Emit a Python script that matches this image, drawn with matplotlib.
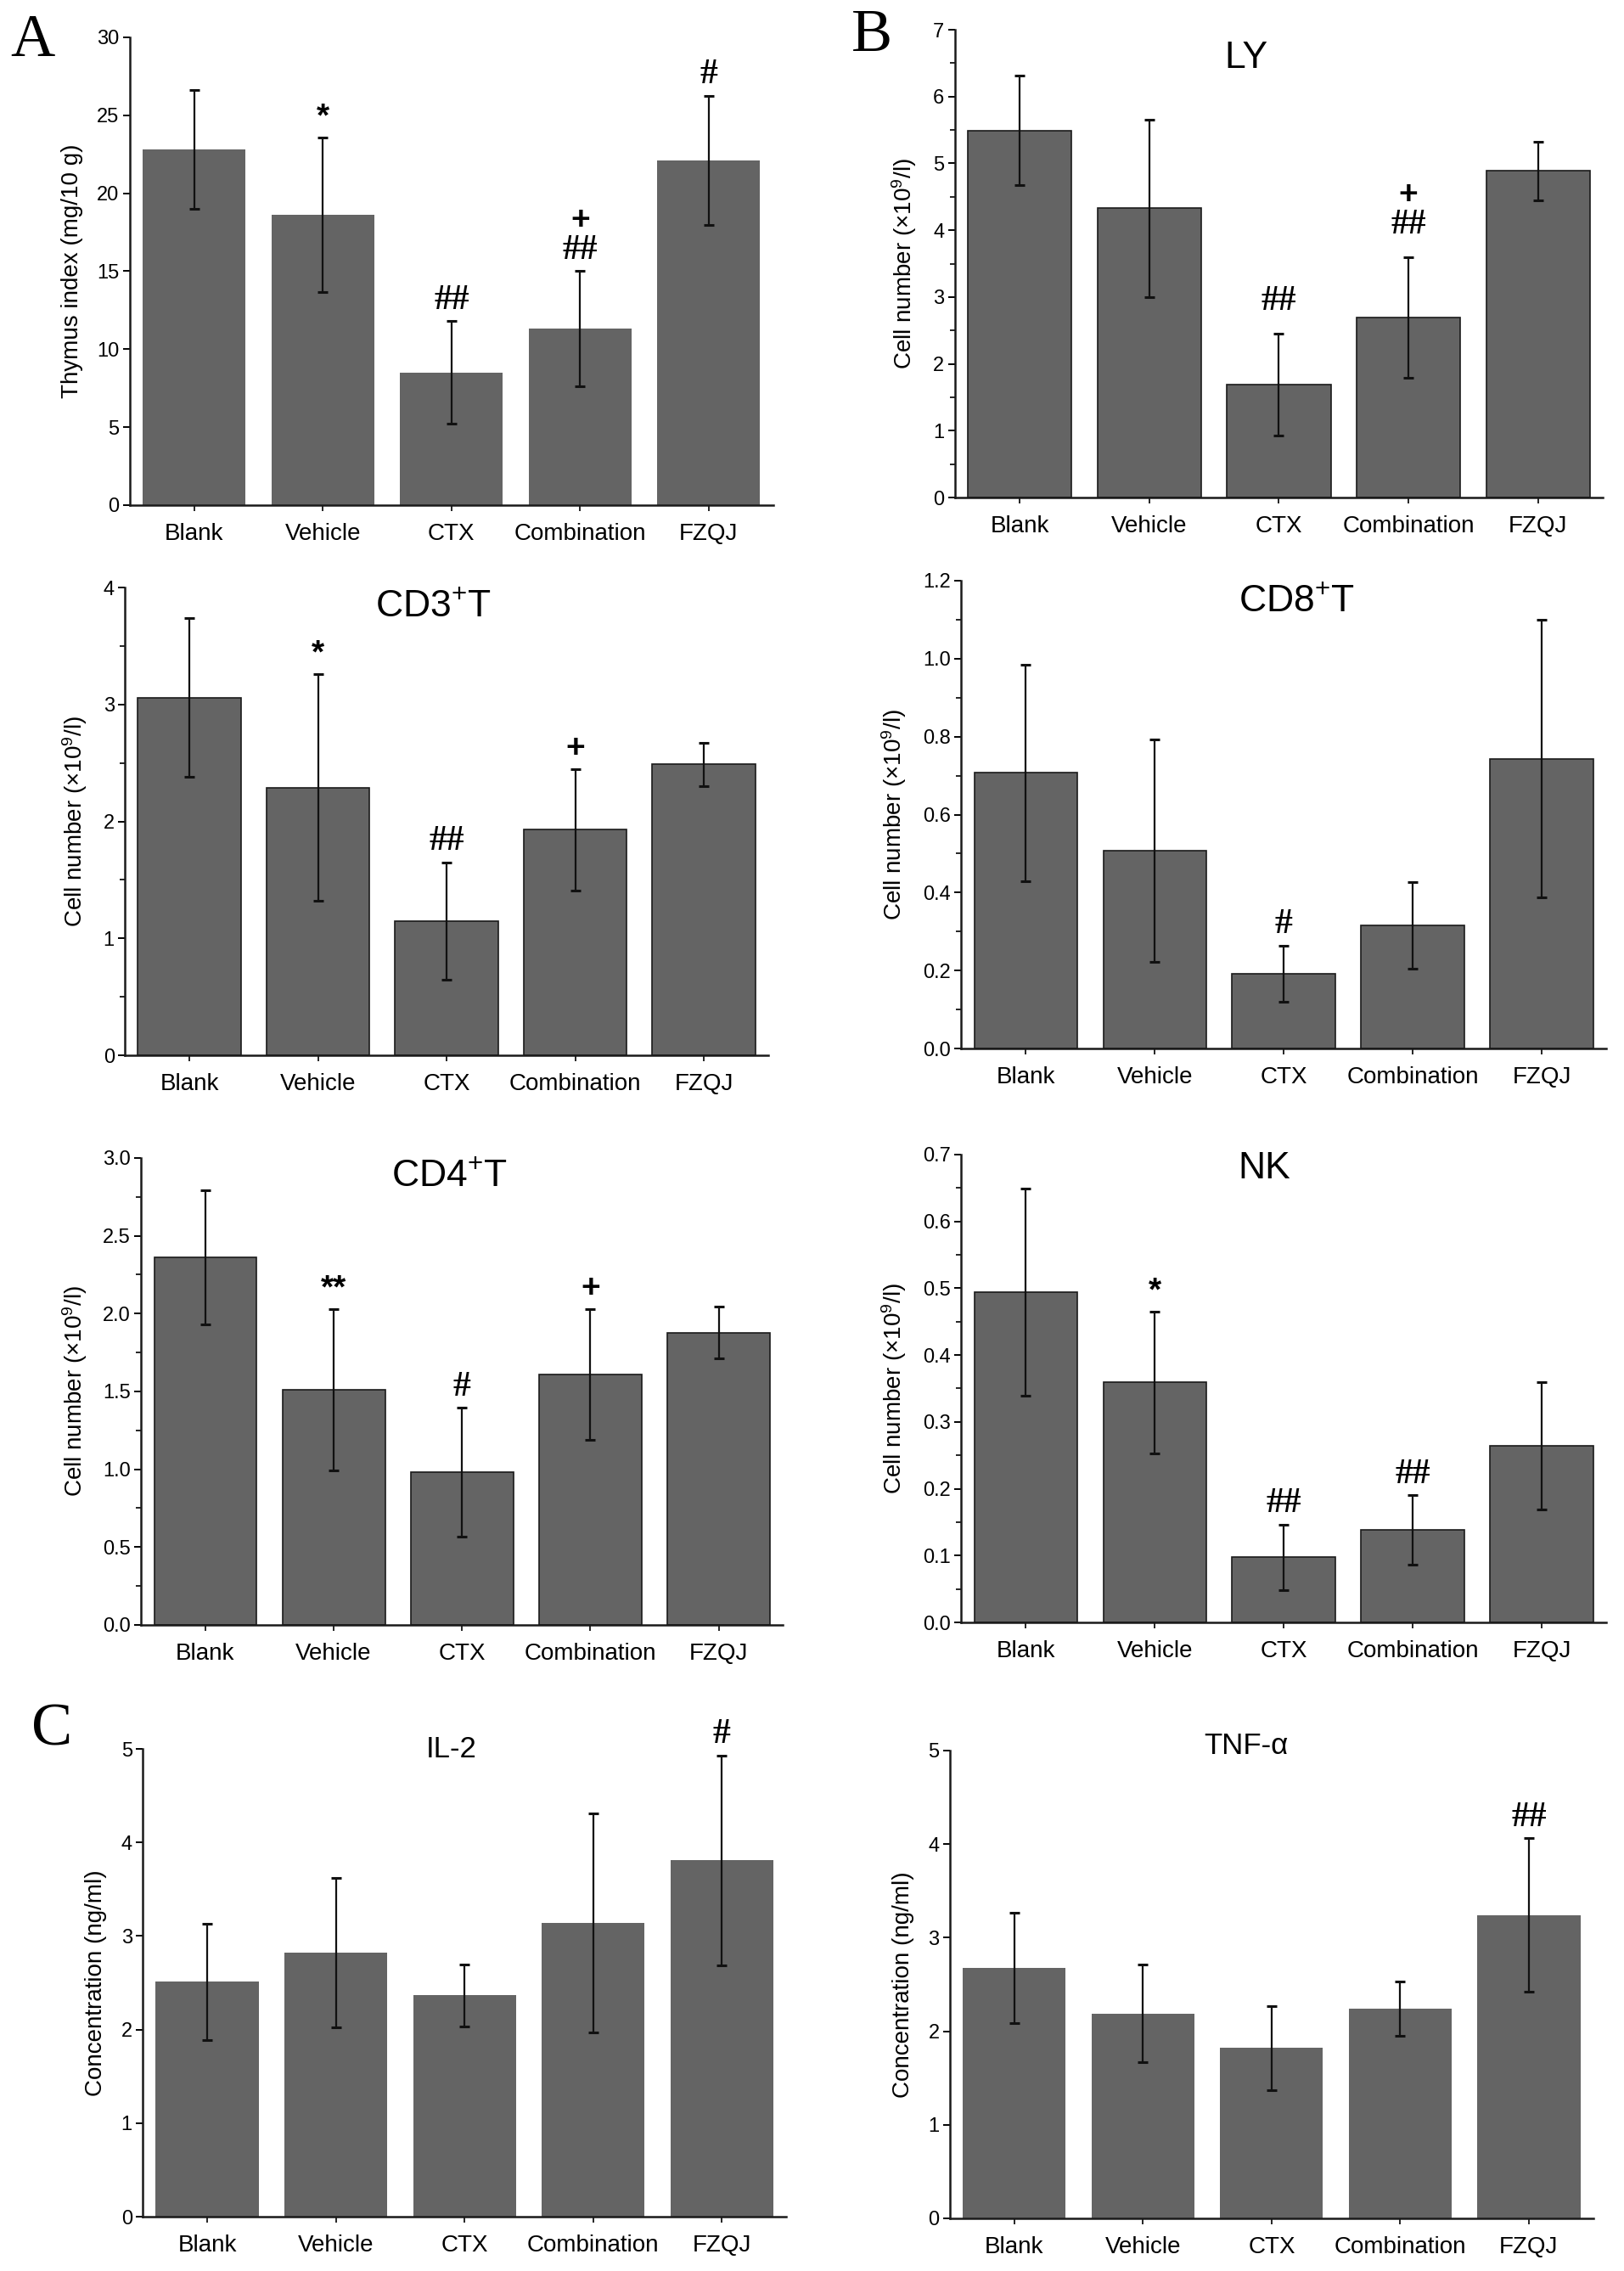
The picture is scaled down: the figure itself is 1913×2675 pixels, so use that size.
import matplotlib
matplotlib.use('Agg')
import matplotlib.pyplot as plt
from matplotlib.ticker import MultipleLocator, FormatStrFormatter

plt.rcParams['font.family'] = ['Liberation Sans', 'DejaVu Sans']
plt.rcParams['mathtext.fontset'] = 'custom'
plt.rcParams['mathtext.rm'] = 'Liberation Sans'
plt.rcParams['mathtext.it'] = 'Liberation Sans:italic'
plt.rcParams['mathtext.bf'] = 'Liberation Sans:bold'

groups = ['Blank', 'Vehicle', 'CTX', 'Combination', 'FZQJ']

# means and error bars
thymus_mean = [22.8, 18.6, 8.5, 11.3, 22.1]
thymus_err = [3.8, 4.95, 3.3, 3.7, 4.15]
ly_mean = [5.49, 4.33, 1.69, 2.69, 4.89]
ly_err = [0.82, 1.33, 0.76, 0.90, 0.44]
cd3_mean = [3.06, 2.29, 1.15, 1.93, 2.49]
cd3_err = [0.68, 0.97, 0.50, 0.52, 0.185]
cd8_mean = [0.707, 0.508, 0.192, 0.316, 0.743]
cd8_err = [0.278, 0.285, 0.072, 0.111, 0.356]
cd4_mean = [2.36, 1.51, 0.98, 1.61, 1.877]
cd4_err = [0.43, 0.52, 0.414, 0.42, 0.167]
nk_mean = [0.494, 0.359, 0.0975, 0.138, 0.264]
nk_err = [0.155, 0.106, 0.049, 0.052, 0.095]
il2_mean = [2.51, 2.82, 2.365, 3.14, 3.81]
il2_err = [0.625, 0.80, 0.33, 1.17, 1.12]
tnf_mean = [2.68, 2.19, 1.82, 2.24, 3.24]
tnf_err = [0.59, 0.525, 0.45, 0.29, 0.82]

# significance marks per bar, listed bottom to top
thymus_marks = [[], ['*'], ['##'], ['##', '+'], ['#']]
ly_marks = [[], [], ['##'], ['##', '+'], []]
cd3_marks = [[], ['*'], ['##'], ['+'], []]
cd8_marks = [[], [], ['#'], [], []]
cd4_marks = [[], ['**'], ['#'], ['+'], []]
nk_marks = [[], ['*'], ['##'], ['##'], []]
il2_marks = [[], [], [], [], ['#']]
tnf_marks = [[], [], [], [], ['##']]

cell_label = 'Cell number (\u00d710$^{9}$/l)'
conc_label = 'Concentration (ng/ml)'

BAR = '#646464'


def bar_panel(rect, mean, err, marks, ylabel, ymax, major, minor=None, fmt='%g',
              title=None, title_x=0.48, title_y=0.96, title_size=32, edge=True, pad=4):
    ax = fig.add_axes(rect)
    x = range(1, len(groups) + 1)
    ax.bar(x, mean, width=0.8, color=BAR,
           edgecolor='#1a1a1a' if edge else BAR, linewidth=1.2 if edge else 0)
    ax.errorbar(x, mean, yerr=err, fmt='none', ecolor='#111111', elinewidth=1.6,
                capsize=4, capthick=2.2)
    ax.set_xlim(0.5, 5.5)
    ax.set_ylim(0, ymax)
    ax.yaxis.set_major_locator(MultipleLocator(major))
    if minor:
        ax.yaxis.set_minor_locator(MultipleLocator(minor))
    ax.yaxis.set_major_formatter(FormatStrFormatter(fmt))
    ax.set_xticks(list(x))
    ax.set_xticklabels(groups, fontsize=20)
    ax.tick_params(axis='y', direction='out', length=6, width=1.4, labelsize=17, pad=3)
    ax.tick_params(axis='y', which='minor', direction='out', length=4, width=1.2)
    ax.tick_params(axis='x', direction='out', length=5, width=1.2, pad=10)
    for s in ['top', 'right']:
        ax.spines[s].set_visible(False)
    for s in ['left', 'bottom']:
        ax.spines[s].set_linewidth(1.8)
        ax.spines[s].set_color('#1a1a1a')
    ax.set_ylabel(ylabel, fontsize=20, labelpad=12)
    if title:
        ax.text(title_x, title_y, title, transform=ax.transAxes, ha='center', va='center',
                fontsize=title_size)
    for i, mk in enumerate(marks):
        off = pad
        for m in mk:
            if '#' in m:
                ax.annotate(m, (i + 1, mean[i] + err[i]), xytext=(0, off),
                            textcoords='offset points', ha='center', va='bottom',
                            fontsize=30, family='Liberation Serif', fontweight='bold')
                off += 26
            else:
                ax.annotate(m, (i + 1, mean[i] + err[i]), xytext=(0, off),
                            textcoords='offset points', ha='center', va='bottom',
                            fontsize=28, fontweight='bold')
                off += 20
    return ax


fig = plt.figure(figsize=(19.13, 26.75), dpi=100)

bar_panel([0.080, 0.7776, 0.396, 0.206], thymus_mean, thymus_err, thymus_marks,
          'Thymus index (mg/10 g)', 30, 5, edge=False)
bar_panel([0.588, 0.7809, 0.399, 0.206], ly_mean, ly_err, ly_marks,
          cell_label, 7, 1, 0.5, title='LY', title_x=0.45, title_y=0.94, pad=14)
bar_panel([0.077, 0.5353, 0.396, 0.206], cd3_mean, cd3_err, cd3_marks,
          cell_label, 4, 1, 0.5, title='CD3$^{+}$T', title_y=0.96)
bar_panel([0.592, 0.5383, 0.397, 0.206], cd8_mean, cd8_err, cd8_marks,
          cell_label, 1.2, 0.2, 0.1, fmt='%.1f', title='CD8$^{+}$T', title_x=0.52,
          title_y=0.955)
bar_panel([0.087, 0.2845, 0.395, 0.2056], cd4_mean, cd4_err, cd4_marks,
          cell_label, 3.0, 0.5, 0.25, fmt='%.1f', title='CD4$^{+}$T', title_y=0.96)
bar_panel([0.592, 0.2856, 0.397, 0.206], nk_mean, nk_err, nk_marks,
          cell_label, 0.7, 0.1, 0.05, fmt='%.1f', title='NK', title_x=0.47, title_y=0.97)
bar_panel([0.088, 0.0239, 0.396, 0.206], il2_mean, il2_err, il2_marks,
          conc_label, 5, 1, title='IL-2', title_y=1.0, title_size=25, edge=False)
bar_panel([0.585, 0.0232, 0.396, 0.206], tnf_mean, tnf_err, tnf_marks,
          conc_label, 5, 1, title='TNF-\u03b1', title_x=0.46, title_y=1.01, title_size=25,
          edge=False)

for letter, px, py in [('A', 0.020, 0.982), ('B', 0.537, 0.984), ('C', 0.032, 0.238)]:
    fig.text(px, py, letter, fontsize=52, family='Liberation Serif', ha='center', va='center')

fig.savefig('out.png', dpi=100, facecolor='white')
